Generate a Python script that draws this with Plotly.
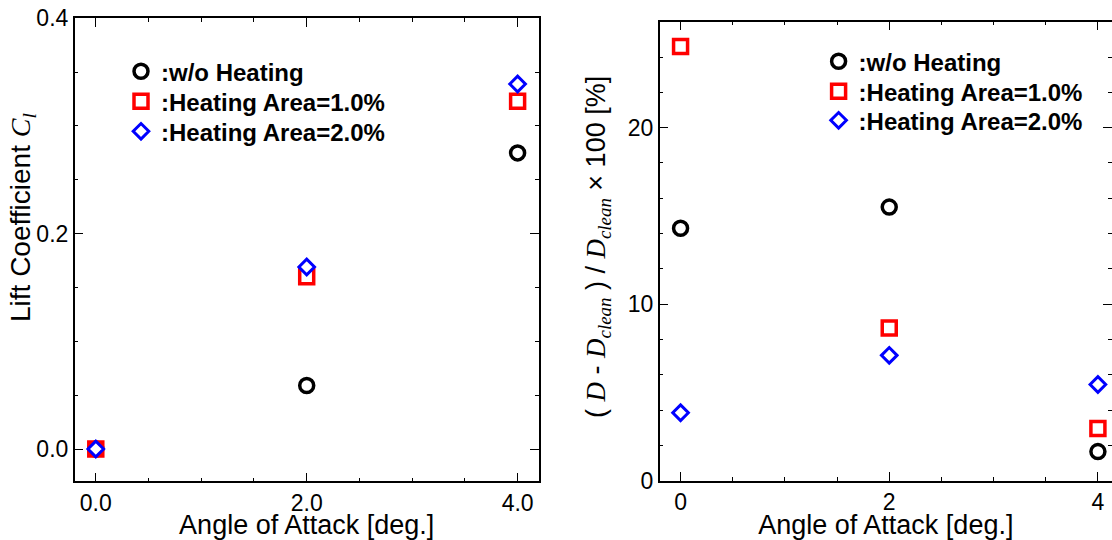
import plotly.graph_objects as go

# ---- data ----
aoa = [0, 2, 4]
series_names = [":w/o Heating", ":Heating Area=1.0%", ":Heating Area=2.0%"]
cl_wo = [0.0, 0.059, 0.275]
cl_h1 = [0.0, 0.160, 0.323]
cl_h2 = [0.0, 0.169, 0.339]
dd_wo = [14.3, 15.5, 1.65]
dd_h1 = [24.6, 8.65, 2.95]
dd_h2 = [3.85, 7.1, 5.45]
x_title = "Angle of Attack [deg.]"

W, H = 1112, 540
SANS = "Liberation Sans, Arial, sans-serif"

def sx(p):
    return p / W

def sy(p):
    return 1 - p / H

fig = go.Figure()

sym = [
    dict(symbol="circle", size=14, line=dict(color="black", width=3.5)),
    dict(symbol="square", size=14, line=dict(color="red", width=3.5)),
    dict(symbol="diamond", size=12, line=dict(color="blue", width=3)),
]

def add_series(xa, ya, ys, legs, fill_first_square):
    for i in range(3):
        xs, yv = aoa, ys[i]
        color = "white"
        if i == 1:
            # reversed so that the legend swatch (first point) is the open square
            xs, yv = aoa[::-1], ys[i][::-1]
            color = ["white", "white", "red"] if fill_first_square else "white"
        m = dict(sym[i])
        m["color"] = color
        fig.add_trace(go.Scatter(
            x=xs, y=yv, mode="markers", name=series_names[i], xaxis=xa, yaxis=ya,
            legend=legs[i], marker=m,
        ))

add_series("x", "y", [cl_wo, cl_h1, cl_h2], ["legend", "legend2", "legend3"], True)
add_series("x2", "y2", [dd_wo, dd_h1, dd_h2], ["legend4", "legend5", "legend6"], False)

axis_common = dict(
    showline=True, linecolor="black", linewidth=1.5, mirror="ticks",
    ticks="inside", ticklen=9, tickwidth=1.3, tickcolor="black",
    showgrid=False, zeroline=False, automargin=False, ticklabeloverflow="allow",
    tickfont=dict(family=SANS, size=23, color="black"),
    title_font=dict(family=SANS, size=27, color="black"),
)

def minor(d):
    return dict(dtick=d, tick0=0, ticks="inside", ticklen=4, tickcolor="black", tickwidth=1.3)

serif_span = '<span style="font-family:Liberation Serif">'

leg_style = dict(xanchor="left", yanchor="middle", bgcolor="rgba(0,0,0,0)", borderwidth=0,
                 font=dict(family=SANS, size=24, color="black", weight="bold"))

legends = {}
for k, (lx, ly) in enumerate([(141, 71.7), (141, 101.7), (141, 131.7),
                               (838.6, 61.7), (838.6, 91.7), (838.6, 120.7)]):
    key = "legend" if k == 0 else f"legend{k+1}"
    legends[key] = dict(x=sx(lx - 20), y=sy(ly), **leg_style)

left_ytitle = "Lift Coefficient " + serif_span + "<i>C</i><sub><i>l</i></sub></span>"
right_ytitle = ("( " + serif_span + "<i>D</i></span> - "
                + serif_span + "<i>D</i><sub><i>clean</i></sub></span> ) / "
                + serif_span + "<i>D</i><sub><i>clean</i></sub></span> × 100 [%]")

fig.update_layout(
    width=W, height=H,
    margin=dict(l=0, r=0, t=0, b=0),
    paper_bgcolor="white", plot_bgcolor="white",
    xaxis=dict(domain=[sx(74.7), sx(538.7)], range=[-0.2, 4.2], anchor="y",
               tickvals=[0, 2, 4], tickformat=".1f", minor=minor(0.5),
               title=dict(text=x_title, standoff=2), **axis_common),
    yaxis=dict(domain=[sy(481.3), sy(18.3)], range=[-0.03, 0.4], anchor="x",
               tickvals=[0, 0.2, 0.4], tickformat=".1f", minor=minor(0.05),
               **axis_common),
    xaxis2=dict(domain=[sx(659.7), 1.0], range=[-0.2, 4.135], anchor="y2",
                tickvals=[0, 2, 4], tickformat="d", minor=minor(0.5),
                title=dict(text=x_title, standoff=2), **axis_common),
    yaxis2=dict(domain=[sy(480.7), sy(21.7)], range=[0, 26], anchor="x2",
                tickvals=[0, 10, 20], tickformat="d", minor=minor(2),
                **axis_common),
    showlegend=True,
    annotations=[
        dict(text=left_ytitle, textangle=-90, xref="paper", yref="paper",
             x=sx(23), y=sy(218), xanchor="center", yanchor="middle", showarrow=False,
             font=dict(family=SANS, size=28, color="black")),
        dict(text=right_ytitle, textangle=-90, xref="paper", yref="paper",
             x=sx(598), y=sy(247), xanchor="center", yanchor="middle", showarrow=False,
             font=dict(family=SANS, size=27, color="black")),
    ],
    **legends,
)

fig.write_html("out.html",
               config={"displayModeBar": False},
               post_script="document.body.style.margin='0px';document.body.style.overflow='hidden';")
